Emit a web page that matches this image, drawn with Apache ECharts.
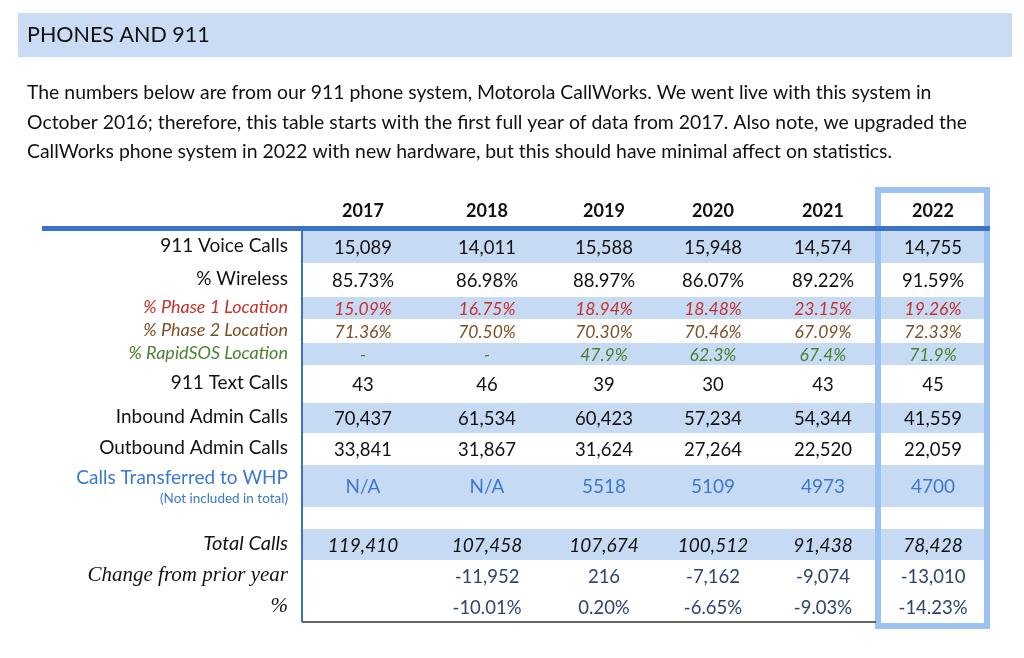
<!DOCTYPE html>
<html>
<head>
<meta charset="utf-8">
<script src="https://cdn.jsdelivr.net/npm/echarts@6/dist/echarts.min.js"></script>
<style>
    html, body { margin: 0; padding: 0; background: #fff; }
    #main { width: 1024px; height: 658px; }
</style>
</head>
<body>
<div id="main"></div>
<script>
// 表格数据
const years = ['2017', '2018', '2019', '2020', '2021', '2022'];
const rowLabels = ['911 Voice Calls', '% Wireless', '% Phase 1 Location', '% Phase 2 Location',
    '% RapidSOS Location', '911 Text Calls', 'Inbound Admin Calls', 'Outbound Admin Calls',
    'Calls Transferred to WHP', '', 'Total Calls', 'Change from prior year', '%'];
const whpNote = '(Not included in total)';

const voiceCalls = [15089, 14011, 15588, 15948, 14574, 14755];
const wireless = [85.73, 86.98, 88.97, 86.07, 89.22, 91.59];
const phase1 = [15.09, 16.75, 18.94, 18.48, 23.15, 19.26];
const phase2 = [71.36, 70.50, 70.30, 70.46, 67.09, 72.33];
const rapidSOS = [null, null, 47.9, 62.3, 67.4, 71.9];
const textCalls = [43, 46, 39, 30, 43, 45];
const inboundAdmin = [70437, 61534, 60423, 57234, 54344, 41559];
const outboundAdmin = [33841, 31867, 31624, 27264, 22520, 22059];
const transferredWHP = [null, null, 5518, 5109, 4973, 4700];
const totalCalls = [119410, 107458, 107674, 100512, 91438, 78428];
const changeCalls = [null, -11952, 216, -7162, -9074, -13010];
const changePct = [null, -10.01, 0.20, -6.65, -9.03, -14.23];

const headerText = 'PHONES AND 911';
const introLines = [
    'The numbers below are from our 911 phone system, Motorola CallWorks. We went live with this system in',
    'October 2016; therefore, this table starts with the first full year of data from 2017. Also note, we upgraded the',
    'CallWorks phone system in 2022 with new hardware, but this should have minimal affect on statistics.'
];

const rowValues = [voiceCalls, wireless, phase1, phase2, rapidSOS, textCalls, inboundAdmin,
    outboundAdmin, transferredWHP, [], totalCalls, changeCalls, changePct];

// 布局（像素单位）
const colWidths = [122, 126, 108, 110, 110, 110];
const rowHeights = [32, 34, 22, 24, 22, 38, 30, 32, 42, 22, 31, 33, 29];
const tableW = colWidths.reduce((a, b) => a + b, 0);
const tableH = rowHeights.reduce((a, b) => a + b, 0);
const colStart = colWidths.map((w, i) => colWidths.slice(0, i).reduce((a, b) => a + b, 0));
const rowStart = rowHeights.map((h, i) => rowHeights.slice(0, i).reduce((a, b) => a + b, 0));

const BAND = '#c6dbf3';
const SANS = 'Lato';
const SERIF = 'Liberation Serif';

let comma = v => v == null ? '' : v.toLocaleString('en-US');
let pct2 = v => v == null ? '' : v.toFixed(2) + '%';
let pct1 = v => v == null ? '-' : v.toFixed(1) + '%';
let plain = v => v == null ? 'N/A' : String(v);

// 每行样式
const rowStyle = [
    { fmt: comma, color: '#111', size: 18.5 },
    { fmt: pct2, color: '#111', size: 18.5 },
    { fmt: pct2, color: '#c8302c', size: 17.5, italic: true },
    { fmt: pct2, color: '#7b4f25', size: 17.5, italic: true },
    { fmt: pct1, color: '#4b8132', size: 17.5, italic: true },
    { fmt: plain, color: '#111', size: 18.5 },
    { fmt: comma, color: '#111', size: 18.5 },
    { fmt: comma, color: '#111', size: 18.5 },
    { fmt: plain, color: '#3d78d0', size: 19 },
    { fmt: plain, color: '#111', size: 18 },
    { fmt: comma, color: '#111', size: 19, italic: true },
    { fmt: comma, color: '#2b4470', size: 18.5 },
    { fmt: pct2, color: '#2b4470', size: 18.5 }
];
const labelStyle = [
    {}, {}, { color: '#c8302c', size: 18, italic: true }, { color: '#7b4f25', size: 18, italic: true },
    { color: '#4b8132', size: 18, italic: true }, {}, {}, {}, { color: '#3d78d0' }, {},
    { italic: true, size: 20 }, { italic: true, serif: true, size: 21 }, { italic: true, serif: true, size: 21 }
];

let cellData = [];
rowValues.forEach((vals, r) => {
    if (r === 9) return;
    vals.forEach((v, c) => cellData.push([c, r]));
});
let bandData = [0, 2, 4, 6, 8, 10].map(r => [r]);
let labelData = rowLabels.map((l, r) => [r]);
let headData = years.map((y, c) => [c]);

let myChart = echarts.init(document.getElementById('main'));

let option = {
    animation: false,
    grid: { left: 302, top: 231, width: tableW, height: tableH },
    xAxis: { type: 'value', min: 0, max: tableW, show: false },
    yAxis: { type: 'value', min: 0, max: tableH, inverse: true, show: false },
    graphic: [
        { type: 'rect', z: 1, shape: { x: 18, y: 13, width: 994, height: 44 }, style: { fill: '#c9dcf4' } },
        { type: 'text', z: 2, style: { x: 27, y: 35, text: headerText, fill: '#111', font: '21.5px Lato', verticalAlign: 'middle' } },
        { type: 'text', z: 2, style: { x: 27, y: 93, text: introLines[0], fill: '#111', font: '19.4px Lato', verticalAlign: 'middle' } },
        { type: 'text', z: 2, style: { x: 27, y: 123, text: introLines[1], fill: '#111', font: '19.4px Lato', verticalAlign: 'middle' } },
        { type: 'text', z: 2, style: { x: 27, y: 152, text: introLines[2], fill: '#111', font: '19.4px Lato', verticalAlign: 'middle' } },
        { type: 'rect', z: 8, shape: { x: 878, y: 190, width: 109, height: 436 }, style: { fill: 'none', stroke: '#9cc3ef', lineWidth: 6 } },
        { type: 'rect', z: 9, shape: { x: 42, y: 226, width: 948, height: 5 }, style: { fill: '#3a72c4' } },
        { type: 'rect', z: 9, shape: { x: 301, y: 231, width: 2, height: tableH }, style: { fill: '#3a72c4' } },
        { type: 'line', z: 9, shape: { x1: 302, y1: 622, x2: 876, y2: 622 }, style: { stroke: '#333', lineWidth: 1.5 } }
    ],
    series: [{
        type: 'custom',
        name: 'bands',
        z: 1,
        data: bandData,
        renderItem: (params, api) => {
            const r = api.value(0);
            const p0 = api.coord([0, rowStart[r]]);
            const p1 = api.coord([tableW, rowStart[r] + rowHeights[r]]);
            return { type: 'rect', shape: { x: p0[0] + 1, y: p0[1], width: p1[0] - p0[0] - 1, height: p1[1] - p0[1] }, style: { fill: BAND } };
        }
    }, {
        type: 'custom',
        name: 'cells',
        z: 3,
        data: cellData,
        renderItem: (params, api) => {
            const c = api.value(0), r = api.value(1);
            const st = rowStyle[r];
            const p = api.coord([colStart[c] + colWidths[c] / 2, rowStart[r] + rowHeights[r] / 2 + 1]);
            return {
                type: 'text',
                style: {
                    x: p[0], y: p[1], text: st.fmt(rowValues[r][c]),
                    fill: st.color, align: 'center', verticalAlign: 'middle',
                    font: (st.italic ? 'italic ' : '') + st.size + 'px ' + SANS
                }
            };
        }
    }, {
        type: 'custom',
        name: 'labels',
        z: 3,
        data: labelData,
        renderItem: (params, api) => {
            const r = api.value(0);
            const ls = labelStyle[r];
            const fontFace = (ls.italic ? 'italic ' : '') + (ls.size || 19) + 'px ' + (ls.serif ? SERIF : SANS);
            const fill = ls.color || '#111';
            if (r === 8) {
                const p = api.coord([-14, rowStart[r] + 13]);
                const q = api.coord([-14, rowStart[r] + 34]);
                return {
                    type: 'group', children: [
                        { type: 'text', style: { x: p[0], y: p[1], text: rowLabels[r], fill: fill, font: fontFace, align: 'right', verticalAlign: 'middle' } },
                        { type: 'text', style: { x: q[0], y: q[1], text: whpNote, fill: fill, font: '13.5px ' + SANS, align: 'right', verticalAlign: 'middle' } }
                    ]
                };
            }
            const p = api.coord([-14, rowStart[r] + rowHeights[r] / 2 - 1]);
            return {
                type: 'text',
                style: { x: p[0], y: p[1], text: rowLabels[r], fill: fill, font: fontFace, align: 'right', verticalAlign: 'middle' }
            };
        }
    }, {
        type: 'custom',
        name: 'years',
        z: 3,
        data: headData,
        renderItem: (params, api) => {
            const c = api.value(0);
            const p = api.coord([colStart[c] + colWidths[c] / 2, -20]);
            return {
                type: 'text',
                style: { x: p[0], y: p[1], text: years[c], fill: '#111', font: 'bold 18px ' + SANS, align: 'center', verticalAlign: 'middle' }
            };
        }
    }]
};

myChart.setOption(option);
</script>
</body>
</html>
